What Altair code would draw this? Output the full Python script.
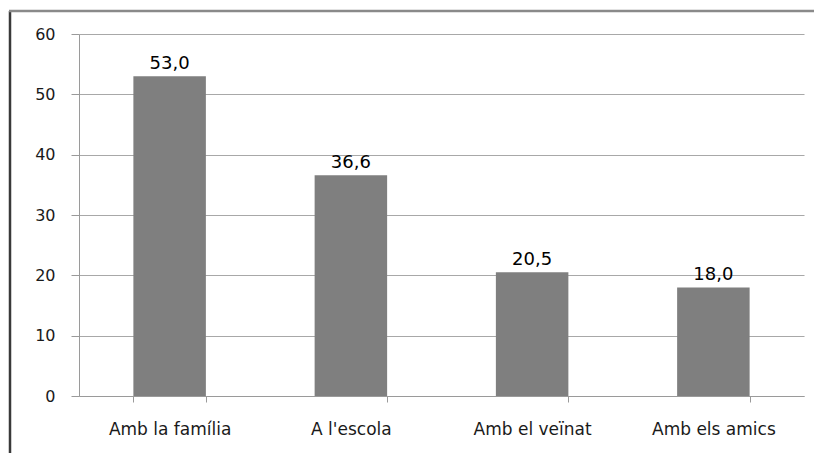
import altair as alt
import pandas as pd

categories = ["Amb la família", "A l'escola", "Amb el veïnat", "Amb els amics"]
values = [53.0, 36.6, 20.5, 18.0]
y_ticks = [0, 10, 20, 30, 40, 50, 60]

df = pd.DataFrame({"cat": categories, "val": values})
frame = pd.DataFrame({"k": [0]})

FONT = "DejaVu Sans"

x = alt.X("cat:N", sort=categories, title=None,
          scale=alt.Scale(paddingInner=0.6, paddingOuter=0.3),
          axis=alt.Axis(labelAngle=0, tickBand="extent", tickSize=6, labelPadding=19,
                        labelFontSize=17, labelFont=FONT, labelColor="#1a1a1a",
                        domainColor="#9a9a9a", tickColor="#9a9a9a", grid=False))
y = alt.Y("val:Q", title=None,
          scale=alt.Scale(domain=[0, 60], nice=False),
          axis=alt.Axis(values=y_ticks, tickSize=8, labelPadding=16, labelFontSize=16,
                        labelFont=FONT, labelColor="#1a1a1a", domainColor="#9a9a9a",
                        tickColor="#9a9a9a", gridColor="#a8a8a8", gridWidth=1.2))

bars = alt.Chart(df).mark_bar(color="#7f7f7f").encode(x=x, y=y)

labels = alt.Chart(df).transform_calculate(
    lab="replace(format(datum.val, '.1f'), '.', ',')"
).mark_text(baseline="bottom", dy=-3, fontSize=18, font=FONT, color="#000000").encode(
    x=alt.X("cat:N", sort=categories), y="val:Q", text="lab:N")

left_line = alt.Chart(frame).mark_rule(color="#3a3a3a", strokeWidth=2.5).encode(
    x=alt.value(-69), y=alt.value(-23), y2=alt.value(420))
top_line = alt.Chart(frame).mark_rule(color="#8a8a8a", strokeWidth=2.5).encode(
    y=alt.value(-23), x=alt.value(-70), x2=alt.value(735))

chart = alt.layer(bars, labels, left_line, top_line).properties(
    width=725, height=362,
    autosize=alt.AutoSizeParams(type="none"),
    padding={"left": 71, "top": 26, "right": 10, "bottom": 57},
).configure_view(stroke=None)

chart.save("out.html", embed_options={"renderer": "svg", "actions": False})
